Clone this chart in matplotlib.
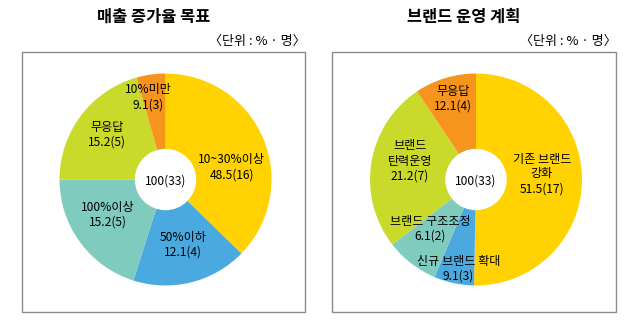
import matplotlib
matplotlib.use("Agg")
import matplotlib.pyplot as plt
from matplotlib.patches import Rectangle, Circle

plt.rcParams['font.family'] = ['Noto Sans CJK KR', 'DejaVu Sans']

W, H = 640, 332

# Left chart: 매출 증가율 목표 (wedge sizes as drawn, clockwise from top)
left_title = "매출 증가율 목표"
left_sizes = [37.3, 17.6, 20.1, 20.6, 4.4]
left_names = ["10~30%이상", "50%이하", "100%이상", "무응답", "10%미만"]
left_values = ["48.5(16)", "12.1(4)", "15.2(5)", "15.2(5)", "9.1(3)"]
left_colors = ["#FFD200", "#4AA9DF", "#7FCCBF", "#C9DA2B", "#F7941E"]

# Right chart: 브랜드 운영 계획
right_title = "브랜드 운영 계획"
right_sizes = [50.3, 6.1, 8.1, 26.1, 9.4]
right_names = ["기존 브랜드\n강화", "신규 브랜드 확대", "브랜드 구조조정", "브랜드\n탄력운영", "무응답"]
right_values = ["51.5(17)", "9.1(3)", "6.1(2)", "21.2(7)", "12.1(4)"]
right_colors = ["#FFD200", "#4AA9DF", "#7FCCBF", "#C9DA2B", "#F7941E"]

center_label = "100(33)"
unit_label = "〈단위 : % · 명〉"

fig = plt.figure(figsize=(W / 100, H / 100), dpi=100)
ax = fig.add_axes([0, 0, 1, 1])
ax.set_xlim(0, W)
ax.set_ylim(0, H)
ax.set_aspect('equal')
ax.axis('off')

def Y(y):
    return H - y

def draw(sizes, names, values, colors, title, cx, cy, box, title_x, label_pos):
    x0, y0, x1, y1 = box
    ax.add_patch(Rectangle((x0, Y(y1)), x1 - x0, y1 - y0, fill=False,
                           edgecolor="#8a8a8a", linewidth=1.0))
    R = 106
    ax.pie(sizes, colors=colors, startangle=90, counterclock=False,
           center=(cx, Y(cy)), radius=R, frame=True,
           wedgeprops=dict(width=R - 30, linewidth=0, antialiased=True))
    ax.add_patch(Circle((cx, Y(cy)), 30, color="white", zorder=3))
    ax.text(cx, Y(cy + 2), center_label, ha="center", va="center", fontsize=8.7, zorder=4)
    for (lx, ly), n, v in zip(label_pos, names, values):
        ax.text(lx, Y(ly), n + "\n" + v, ha="center", va="center", fontsize=8.7,
                linespacing=1.2, zorder=4)
    ax.text(title_x, Y(17), title, ha="center", va="center", fontsize=11.8,
            fontweight="bold")
    ax.text(x1 + 1, Y(41.5), unit_label, ha="right", va="center", fontsize=9.4)

draw(left_sizes, left_names, left_values, left_colors, left_title,
     165.5, 179.5, (22, 52, 305, 312), 153.5,
     [(231.7, 167.5), (183, 244.5), (108, 214.5), (106.7, 134.5), (148, 97.5)])

draw(right_sizes, right_names, right_values, right_colors, right_title,
     476, 179.5, (332, 52, 616, 312), 464,
     [(541.7, 174), (458.3, 268.5), (430, 228.5), (410, 161), (453.3, 99)])

ax.set_xlim(0, W)
ax.set_ylim(0, H)
ax.axis('off')
fig.savefig("out.png", dpi=100)
